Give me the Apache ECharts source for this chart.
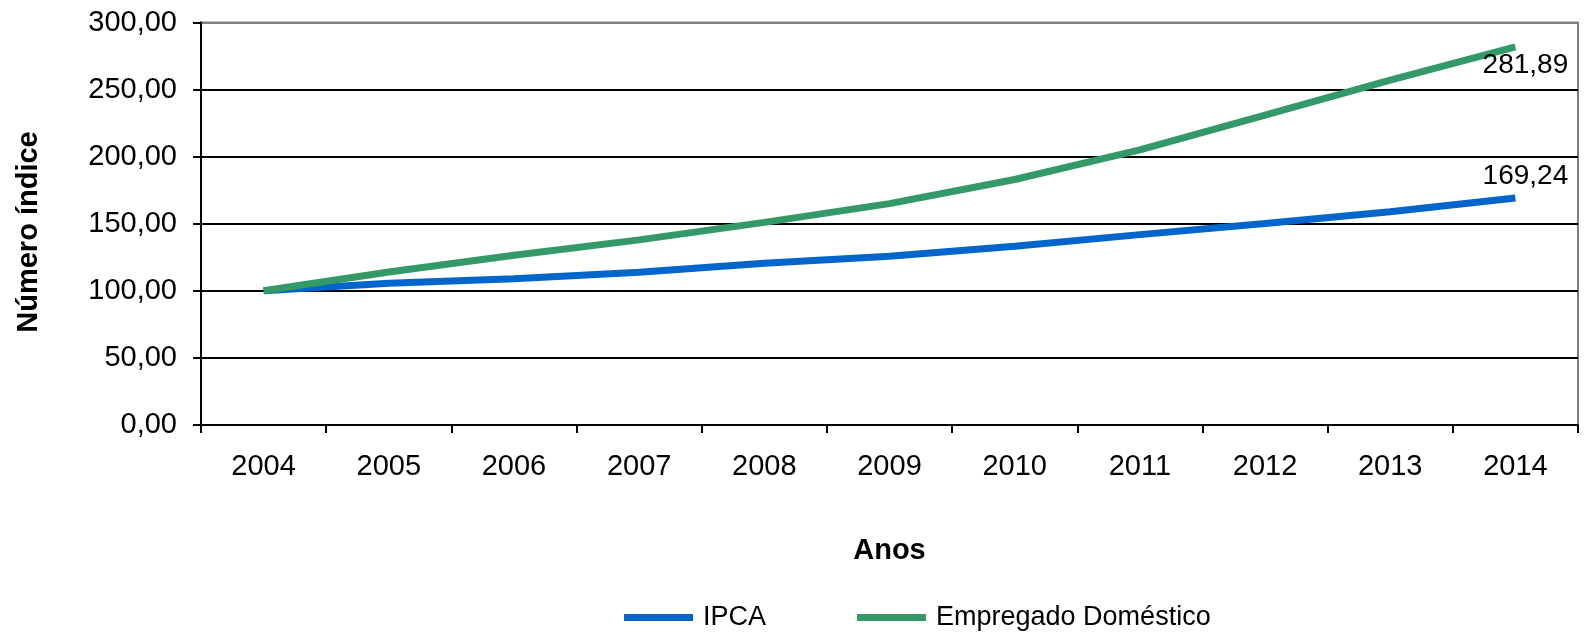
<!DOCTYPE html>
<html>
<head>
<meta charset="utf-8">
<script src="https://cdn.jsdelivr.net/npm/echarts@6/dist/echarts.min.js"></script>
<style>
  html, body { margin: 0; padding: 0; background: #fff; }
  #indice-chart { width: 1585px; height: 635px; }
</style>
</head>
<body>
<div id="indice-chart"></div>
<script>
let anos = ['2004', '2005', '2006', '2007', '2008', '2009', '2010', '2011', '2012', '2013', '2014']
let ipca = [100, 105.7, 109.0, 113.9, 120.6, 125.8, 133.2, 141.9, 150.2, 159.0, 169.24]
let empregado = [100, 114, 126.5, 138, 151, 165, 183, 205, 231, 257, 281.89]
let yTicks = [0, 50, 100, 150, 200, 250, 300]

let fonte = 'Liberation Sans, Arial, sans-serif'
let virgula = function (v) { return v.toFixed(2).replace('.', ',') }

// only the last point carries a label
let comRotulo = function (valores, offset) {
  return valores.map(function (v, i) {
    if (i !== valores.length - 1) return v
    return {
      value: v,
      label: {
        show: true,
        position: 'inside',
        offset: offset,
        formatter: function (p) { return virgula(p.value) },
        color: '#000',
        fontFamily: fonte,
        fontSize: 28
      }
    }
  })
}

let myChart = echarts.init(document.getElementById('indice-chart'))
let option = {
  animation: false,
  color: ['#0066CC', '#339966'],
  textStyle: { fontFamily: fonte, color: '#000' },
  grid: {
    left: 201,
    right: 7,
    top: 22.5,
    bottom: 210,
    containLabel: false,
    outerBoundsMode: 'none',
    show: true,
    borderColor: '#808080',
    borderWidth: 2
  },
  graphic: [
    {
      type: 'text',
      x: 29,
      y: 232,
      rotation: Math.PI / 2,
      style: {
        text: 'Número índice',
        fontFamily: fonte,
        fontSize: 29,
        fontWeight: 'bold',
        fill: '#000',
        align: 'center',
        verticalAlign: 'middle'
      }
    }
  ],
  legend: {
    left: 619,
    top: 599,
    icon: 'rect',
    itemWidth: 69,
    itemHeight: 7,
    itemGap: 91,
    textStyle: { fontFamily: fonte, fontSize: 27, color: '#000', padding: [0, 0, 0, 5] },
    data: ['IPCA', 'Empregado Doméstico']
  },
  xAxis: {
    type: 'category',
    data: anos,
    boundaryGap: true,
    name: 'Anos',
    nameLocation: 'middle',
    nameGap: 111,
    nameTextStyle: { fontFamily: fonte, fontSize: 29, fontWeight: 'bold', color: '#000' },
    axisLine: { lineStyle: { color: '#000', width: 2 } },
    axisTick: { show: true, alignWithLabel: false, length: 8, lineStyle: { color: '#000', width: 2 } },
    axisLabel: { fontFamily: fonte, fontSize: 29, color: '#000', margin: 27 },
    splitLine: { show: false }
  },
  yAxis: {
    type: 'value',
    min: yTicks[0],
    max: yTicks[yTicks.length - 1],
    interval: 50,
    axisLine: { show: true, lineStyle: { color: '#000', width: 2 } },
    axisTick: { show: true, length: 8, lineStyle: { color: '#000', width: 2 } },
    axisLabel: {
      fontFamily: fonte,
      fontSize: 29,
      color: '#000',
      margin: 24,
      formatter: function (v) { return virgula(v) }
    },
    splitLine: {
      show: true,
      lineStyle: { color: ['#000', '#000', '#000', '#000', '#000', '#000', '#808080'], width: 2 }
    }
  },
  series: [
    {
      name: 'IPCA',
      type: 'line',
      data: comRotulo(ipca, [10, -22]),
      symbol: 'circle',
      symbolSize: 0.1,
      showSymbol: true,
      lineStyle: { width: 7, color: '#0066CC' },
      itemStyle: { color: '#0066CC' },
      z: 3
    },
    {
      name: 'Empregado Doméstico',
      type: 'line',
      data: comRotulo(empregado, [10, 18]),
      symbol: 'circle',
      symbolSize: 0.1,
      showSymbol: true,
      lineStyle: { width: 7, color: '#339966' },
      itemStyle: { color: '#339966' },
      z: 4
    }
  ]
}
myChart.setOption(option)
</script>
</body>
</html>
